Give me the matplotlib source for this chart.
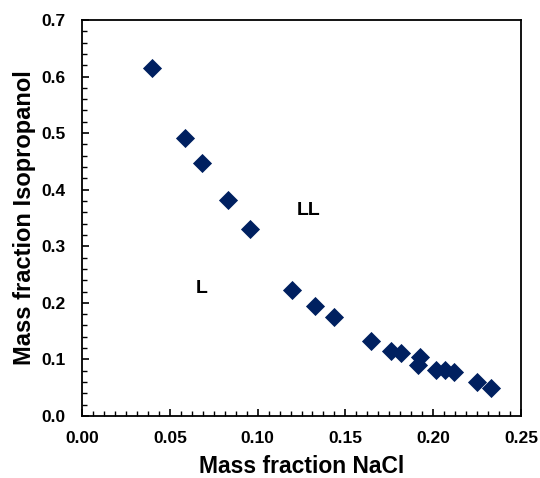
import matplotlib
matplotlib.use("Agg")
import matplotlib.pyplot as plt
from matplotlib.ticker import MultipleLocator, FormatStrFormatter

# binodal data
nacl = [0.040, 0.0587, 0.0683, 0.0831, 0.0957, 0.1196, 0.1327, 0.1435, 0.1646,
        0.1760, 0.1817, 0.1913, 0.1925, 0.2016, 0.2067, 0.2118, 0.2249, 0.2330]
isopropanol = [0.615, 0.491, 0.447, 0.382, 0.331, 0.223, 0.194, 0.175, 0.133,
               0.115, 0.111, 0.090, 0.104, 0.081, 0.081, 0.078, 0.060, 0.050]

region_labels = ["LL", "L"]
region_x = [0.1292, 0.0681]
region_y = [0.364, 0.2245]

plt.rcParams['font.family'] = ['Liberation Sans', 'DejaVu Sans']
plt.rcParams['font.weight'] = 'bold'

fig = plt.figure(figsize=(5.4, 4.78), dpi=100)
ax = fig.add_axes([0.1519, 0.1297, 0.8129, 0.8285])

ax.scatter(nacl, isopropanol, marker='D', s=95, color='#002060', zorder=3, linewidths=0)

for lab, x, y in zip(region_labels, region_x, region_y):
    ax.text(x, y, lab, fontsize=14, fontweight='bold', ha='center', va='center')

ax.set_xlim(0, 0.25)
ax.set_ylim(0, 0.7)
ax.xaxis.set_major_locator(MultipleLocator(0.05))
ax.xaxis.set_minor_locator(MultipleLocator(0.00625))
ax.yaxis.set_major_locator(MultipleLocator(0.1))
ax.yaxis.set_minor_locator(MultipleLocator(0.02))
ax.xaxis.set_major_formatter(FormatStrFormatter('%.2f'))
ax.yaxis.set_major_formatter(FormatStrFormatter('%.1f'))

ax.tick_params(which='major', direction='in', length=5, width=1.2, labelsize=12.5)
ax.tick_params(axis='x', which='major', pad=11)
ax.tick_params(axis='y', which='major', pad=12)
ax.tick_params(which='minor', direction='in', length=3.5, width=1.0)
for lbl in ax.get_xticklabels() + ax.get_yticklabels():
    lbl.set_fontweight('bold')
for sp in ax.spines.values():
    sp.set_linewidth(1.3)

ax.set_xlabel('Mass fraction NaCl', fontsize=16.5, fontweight='bold', labelpad=6)
ax.set_ylabel('Mass fraction Isopropanol', fontsize=17, fontweight='bold', labelpad=4)

fig.savefig('out.png', dpi=100)
